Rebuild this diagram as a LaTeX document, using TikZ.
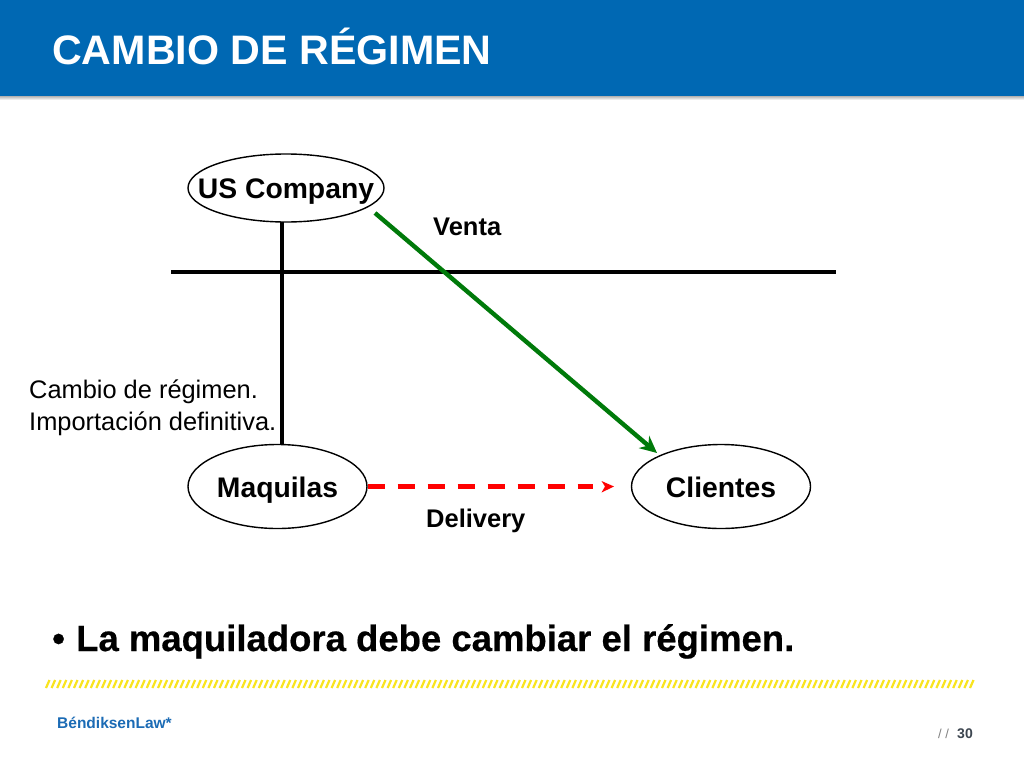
\documentclass[tikz,border=0pt]{standalone}
\usepackage{fontspec}
\setmainfont{Liberation Sans}
\newfontfamily\fatfont[FakeBold=0.5]{Liberation Sans Bold}
\usetikzlibrary{shapes.geometric,arrows.meta}
\definecolor{hdr}{HTML}{0068B3}
\definecolor{law}{HTML}{1B6BB5}
\definecolor{hatch}{HTML}{F9E41E}
\definecolor{grn}{HTML}{007A0A}
\definecolor{pg}{HTML}{3D4650}
\newcommand{\ovaltext}[1]{\makebox[0pt][c]{\raisebox{-10.5pt}[0pt][0pt]{#1}}}
\tikzset{
  x=1pt,y=-1pt,
  oval/.style={draw=black,line width=1.4pt,ellipse,fill=white,minimum width=#1,minimum height=84pt,inner sep=0pt,font=\fontsize{28.3}{30}\selectfont\bfseries},
  lbl/.style={inner sep=0pt,anchor=base west,font=\fontsize{25.5}{28}\selectfont\bfseries,text=black},
  wire/.style={draw=black,line width=3.05pt},
  txt/.style={inner sep=0pt,anchor=base west}
}
\begin{document}
\begin{tikzpicture}
\useasboundingbox (0,0) rectangle (1024,768);
\fill[white] (0,0) rectangle (1024,768);
\shade[top color=black!30,bottom color=white] (0,96) rectangle (1024,100);
\fill[hdr] (0,0) rectangle (1024,96);
\node[txt,text=white,font=\fontsize{41.2}{44}\selectfont\bfseries] (title) at (52,64) {CAMBIO DE RÉGIMEN};

\coordinate (hl) at (171,272);
\coordinate (hr) at (836,272);
\coordinate (vt) at (282,215);
\coordinate (vb) at (282,446);
\coordinate (gs) at (375,213);
\coordinate (ge) at (657,453);
\draw[wire] (hl) -- (hr);
\draw[wire] (vt) -- (vb);
\node[oval=196pt,minimum height=68pt] (us) at (286,188) {\ovaltext{US Company}};
\node[oval=179pt] (maq) at (277.5,486.5) {\ovaltext{Maquilas}};
\node[oval=179pt] (cli) at (721,486.5) {\ovaltext{Clientes}};
\draw[grn,line width=4.4pt,-{Stealth[length=17pt,width=16pt]}] (gs) -- (ge);
\draw[red,line width=4.4pt,dash pattern=on 17pt off 13pt] (maq.east) -- ([xshift=-38pt]cli.west);
\fill[red] (601.5,481) -- (614,486.5) -- (601.5,492.5) -- (605,486.5) -- cycle;

\node[lbl] (venta) at (433,235) {Venta};
\node[lbl] (deliv) at (426,527) {Delivery};
\node[txt,font=\fontsize{25.4}{28}\selectfont] (c1) at (29,398) {Cambio de régimen.};
\node[txt,font=\fontsize{25.4}{28}\selectfont] (c2) at (29,430) {Importación definitiva.};

\node[txt,font=\fontsize{36.5}{38}\selectfont\fatfont] (bul) at (52,651) {•};
\node[txt,font=\fontsize{36.5}{38}\selectfont\fatfont] (bultext) at (76,651) {La maquiladora debe cambiar el régimen.};

\foreach \i in {0,...,165}{
  \draw[hatch,line width=2.2pt] ({46+\i*5.6},688) -- ({49.5+\i*5.6},680);
}
\node[txt,text=law,font=\fontsize{15.5}{18}\selectfont\bfseries] (brand) at (57,728) {BéndiksenLaw*};
\node[txt,text=black!50,font=\fontsize{13}{15}\selectfont] (sl) at (938,738.5) {/ /};
\node[txt,text=pg,font=\fontsize{14}{16}\selectfont\bfseries] (num) at (957,738.5) {30};
\end{tikzpicture}
\end{document}
